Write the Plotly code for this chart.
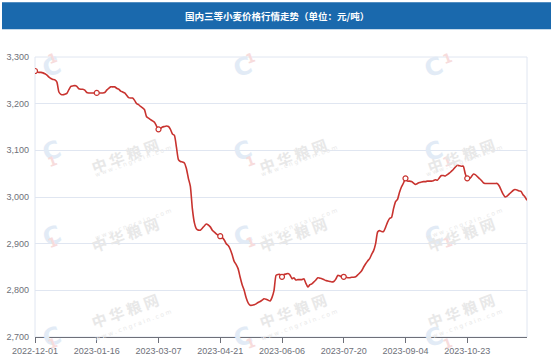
import pandas as pd
import plotly.graph_objects as go

title_text = "国内三等小麦价格行情走势（单位：元/吨）"
start_date, end_date = "2022-12-01", "2023-12-04"
holidays = ["2023-01-02", "2023-01-23", "2023-01-24", "2023-01-25", "2023-01-26", "2023-01-27",
            "2023-04-05", "2023-05-01", "2023-05-02", "2023-05-03", "2023-06-22", "2023-06-23",
            "2023-09-29", "2023-10-02", "2023-10-03", "2023-10-04", "2023-10-05", "2023-10-06"]
no_quote_days = ["2023-03-31", "2023-08-15"]
extra_workdays = ["2023-04-23", "2023-05-06", "2023-06-25", "2023-10-07", "2023-10-08"]
tick_labels = ["2022-12-01", "2023-01-16", "2023-03-07", "2023-04-21",
               "2023-06-06", "2023-07-20", "2023-09-04", "2023-10-23"]
y_ticks = [2700, 2800, 2900, 3000, 3100, 3200, 3300]

prices = [
    3270, 3268, 3267, 3267, 3266, 3264, 3261, 3257, 3254, 3252,
    3251, 3246, 3225, 3220, 3219, 3220, 3222, 3230, 3237, 3238,
    3239, 3237, 3232, 3231, 3231, 3229, 3224, 3223, 3223, 3223,
    3223, 3223, 3223, 3223, 3223, 3224, 3229, 3233, 3236, 3236,
    3236, 3233, 3231, 3227, 3225, 3223, 3218, 3213, 3212, 3212,
    3207, 3200, 3198, 3194, 3191, 3187, 3172, 3169, 3166, 3163,
    3160, 3152, 3145, 3147, 3150, 3151, 3152, 3151, 3145, 3135,
    3132, 3107, 3080, 3076, 3075, 3073, 3061, 3040, 3023, 2975,
    2945, 2932, 2929, 2929, 2933, 2938, 2942, 2940, 2936, 2929,
    2925, 2921, 2918, 2916, 2913, 2908, 2900, 2896, 2888, 2876,
    2862, 2855, 2846, 2828, 2812, 2800, 2784, 2773, 2768, 2768,
    2769, 2771, 2774, 2776, 2779, 2782, 2781, 2779, 2777, 2785,
    2800, 2832, 2834, 2834, 2829, 2834, 2835, 2836, 2833, 2825,
    2827, 2822, 2823, 2823, 2823, 2825, 2815, 2807, 2812, 2814,
    2818, 2822, 2827, 2826, 2825, 2823, 2821, 2820, 2819, 2818,
    2819, 2824, 2832, 2831, 2829, 2829, 2828, 2827, 2827, 2828,
    2828, 2829, 2833, 2837, 2842, 2850, 2857, 2863, 2868, 2877,
    2885, 2900, 2925, 2928, 2926, 2926, 2935, 2946, 2954, 2956,
    2975, 2990, 2995, 3010, 3022, 3030, 3040, 3034, 3034, 3033,
    3030, 3027, 3029, 3031, 3032, 3033, 3033, 3034, 3034, 3034,
    3035, 3037, 3036, 3041, 3046, 3046, 3045, 3048, 3051, 3055,
    3059, 3064, 3068, 3067, 3066, 3066, 3050, 3040, 3039, 3043,
    3049, 3048, 3044, 3040, 3036, 3031, 3029, 3029, 3029, 3029,
    3029, 3029, 3029, 3024, 3015, 3006, 3000, 3002, 3006, 3010,
    3014, 3016, 3015, 3013, 3012, 3005, 3000, 2993,
]

days = pd.bdate_range(start_date, end_date).strftime("%Y-%m-%d").tolist()
skip = set(holidays) | set(no_quote_days)
dates = sorted([d for d in days if d not in skip] + extra_workdays)
n = min(len(dates), len(prices))
dates, prices = dates[:n], prices[:n]

LINE = "#c8332f"
fig = go.Figure()
fig.add_trace(go.Scatter(x=dates, y=prices, mode="lines",
                         line=dict(color=LINE, width=1.6, shape="spline", smoothing=0.5),
                         hoverinfo="skip", showlegend=False))
mk_y = [prices[dates.index(d)] for d in tick_labels if d in dates]
mk_x = [d for d in tick_labels if d in dates]
fig.add_trace(go.Scatter(x=mk_x, y=mk_y, mode="markers",
                         marker=dict(size=5, color="white", line=dict(color=LINE, width=1.2)),
                         hoverinfo="skip", showlegend=False))

# pixel helpers for decorations (plot area 35..527 x 56.7..336.7)
L, R, T, B = 35, 527, 56.7, 336.7
def px(x):
    return (x - L) / (R - L)
def py(y):
    return (B - y) / (B - T)

shapes = [
    dict(type="rect", xref="paper", yref="paper", x0=0, x1=1, y0=0, y1=1,
         line=dict(color="#e0e6f1", width=1), layer="below"),
    dict(type="rect", xref="paper", yref="paper", x0=px(2), x1=px(551), y0=py(29), y1=py(2),
         line=dict(width=0), fillcolor="#1a69ad", layer="above"),
]

annotations = []
# watermarks
for Lx in (38, 245, 452):
    for Ly in (48, 151, 254, 355):
        annotations.append(dict(xref="paper", yref="paper", x=px(Lx - 2), y=py(Ly), text="<b>C</b>",
                                showarrow=False, textangle=-20,
                                font=dict(size=24, color="#e2ebf6", family="DejaVu Sans")))
        annotations.append(dict(xref="paper", yref="paper", x=px(Lx + 5), y=py(Ly - 1), text="<b>1</b>",
                                showarrow=False, textangle=-20,
                                font=dict(size=13, color="#f7dcdc", family="DejaVu Sans")))
        if Ly > 60:
            annotations.append(dict(xref="paper", yref="paper", x=px(Lx + 48), y=py(Ly - 20),
                                    text="<b>中 华 粮 网</b>", showarrow=False, textangle=-20,
                                    font=dict(size=15, color="#e8e8e8", family="Noto Sans CJK SC")))
            annotations.append(dict(xref="paper", yref="paper", x=px(Lx + 54), y=py(Ly - 10),
                                    text="w w w . c n g r a i n . c o m", showarrow=False, textangle=-20,
                                    font=dict(size=6, color="#e8e8e8", family="DejaVu Sans")))
annotations.append(dict(xref="paper", yref="paper", x=px(277), y=py(15.5), text="<b>" + title_text + "</b>",
                        showarrow=False,
                        font=dict(size=9.5, color="white", family="Noto Sans CJK SC"),
                        xanchor="center", yanchor="middle"))

fig.update_layout(
    width=554, height=362,
    margin=dict(l=L, r=554 - R, t=T, b=362 - B, autoexpand=False),
    paper_bgcolor="white", plot_bgcolor="white",
    shapes=shapes, annotations=annotations,
    xaxis=dict(type="category", categoryorder="array", categoryarray=dates,
               range=[0, n - 1], tickvals=tick_labels, ticktext=tick_labels,
               showgrid=False, showline=True, linecolor="#6e7079", linewidth=1,
               ticks="outside", ticklen=5, tickcolor="#6e7079", tickwidth=1,
               tickfont=dict(size=9, color="#6e7079", family="Liberation Sans"),
               zeroline=False, fixedrange=True, automargin=False),
    yaxis=dict(range=[2700, 3300], tickvals=y_ticks, tickformat=",",
               showgrid=True, gridcolor="#e0e6f1", gridwidth=1, zeroline=False,
               showline=False, ticks="", ticklabelstandoff=5,
               tickfont=dict(size=9, color="#6e7079", family="Liberation Sans"),
               fixedrange=True, automargin=False),
)
fig.write_html("out.html")
